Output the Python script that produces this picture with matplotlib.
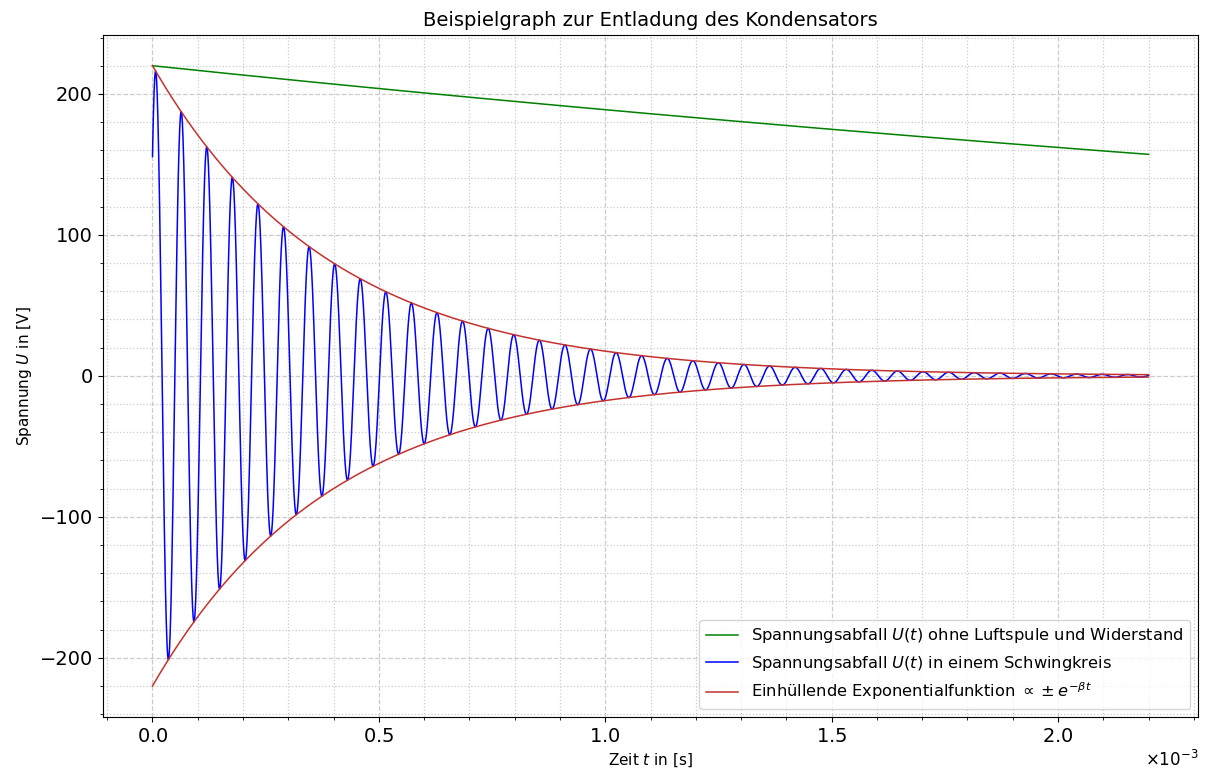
import numpy as np
import matplotlib
matplotlib.use('Agg')
import matplotlib.pyplot as plt

# Parameters of the discharge
U0 = 220.0          # initial voltage in V
beta = 2530.0       # damping constant in 1/s
gamma = 153.0       # decay constant without coil and resistor in 1/s
omega = 111200.0    # angular frequency of the oscillating circuit in rad/s
phi = -np.pi / 4    # phase offset
t_end = 2.2e-3      # end time in s

t = np.linspace(0, t_end, 5000)
U_plain = U0 * np.exp(-gamma * t)
U_osc = U0 * np.exp(-beta * t) * np.cos(omega * t + phi)
U_env = U0 * np.exp(-beta * t)

red = '#c4322e'

fig, ax = plt.subplots(figsize=(12.08, 7.71), dpi=100)
ax.plot(t, U_plain, color='green', lw=1.1,
        label=r'Spannungsabfall $U(t)$ ohne Luftspule und Widerstand')
ax.plot(t, U_osc, color='blue', lw=1.1,
        label=r'Spannungsabfall $U(t)$ in einem Schwingkreis')
ax.plot(t, U_env, color=red, lw=1.1,
        label=r'Einhüllende Exponentialfunktion $\propto \pm e^{-\beta t}$')
ax.plot(t, -U_env, color=red, lw=1.1)

ax.set_title('Beispielgraph zur Entladung des Kondensators', fontsize=14)
ax.set_xlabel(r'Zeit $t$ in [s]', fontsize=11)
ax.set_ylabel(r'Spannung $U$ in [V]', fontsize=11)
ax.ticklabel_format(axis='x', style='sci', scilimits=(0, 0), useMathText=True)
ax.tick_params(axis='both', which='major', labelsize=14)
ax.minorticks_on()
ax.grid(which='major', linestyle='--', color='#cccccc', lw=0.9)
ax.grid(which='minor', linestyle=':', color='#cccccc', lw=0.9)
ax.xaxis.get_offset_text().set_fontsize(12)
ax.legend(loc='lower right', fontsize=11.7)

fig.subplots_adjust(left=0.085, right=0.992, top=0.955, bottom=0.07)
fig.savefig('out.png')
